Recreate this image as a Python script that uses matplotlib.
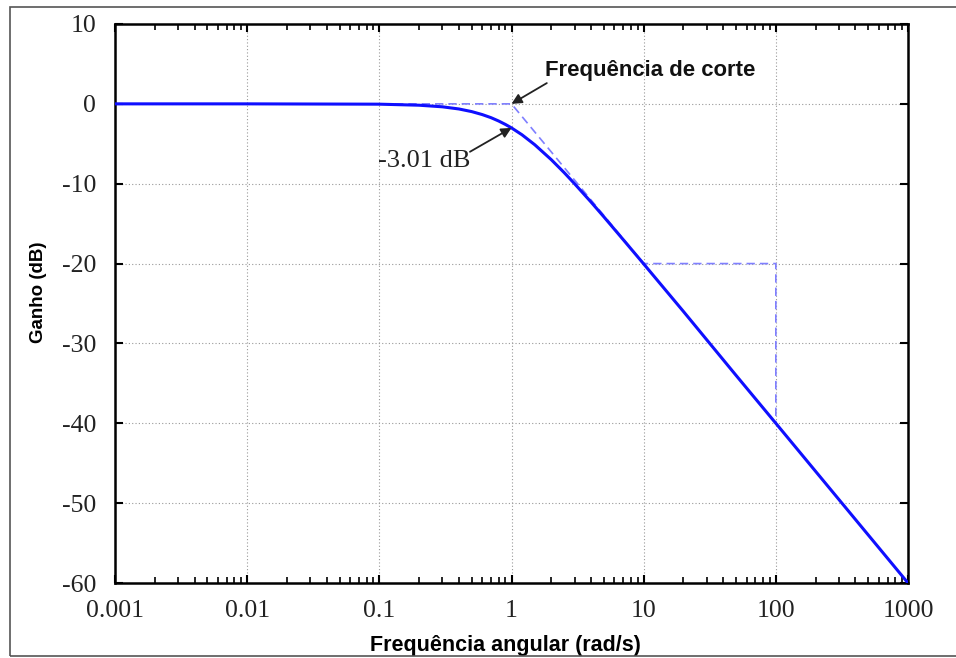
import matplotlib
matplotlib.use("Agg")
import matplotlib.pyplot as plt
from matplotlib.patches import Rectangle
from matplotlib.ticker import LogLocator, NullFormatter, FixedLocator

# gain curve (rad/s, dB)
freq = [0.001, 0.01, 0.1, 0.2, 0.3, 0.4, 0.5, 0.6, 0.7, 0.8, 0.9, 1.0,
        1.2, 1.5, 2.0, 2.5, 3.0, 4.0, 5.0, 7.0, 10.0, 20.0, 50.0, 100.0, 1000.0]
gain = [0.0, 0.0, -0.04, -0.17, -0.37, -0.64, -0.97, -1.34, -1.73, -2.15, -2.58, -3.01,
        -3.87, -5.12, -6.99, -8.60, -10.0, -12.3, -14.15, -17.0, -20.04, -26.0, -34.0, -40.0, -60.0]

# asymptote / slope guide (dashed)
guide_freq = [0.001, 1.0, 10.0, 100.0, 100.0]
guide_gain = [0.0, 0.0, -20.0, -20.0, -40.0]

x_ticks = [0.001, 0.01, 0.1, 1, 10, 100, 1000]
x_labels = ["0.001", "0.01", "0.1", "1", "10", "100", "1000"]
y_ticks = [-60, -50, -40, -30, -20, -10, 0, 10]

serif = ["Liberation Serif", "DejaVu Serif"]
sans = ["Liberation Sans", "DejaVu Sans"]
plt.rcParams["axes.unicode_minus"] = False

fig = plt.figure(figsize=(9.56, 6.58), dpi=100)
ax = fig.add_axes([115 / 956, 1 - 583 / 658, (908 - 115) / 956, (583 - 24) / 658])

# outer frame around the picture
fig.patches.append(Rectangle((10 / 956, 1 - 656 / 658), 1.2, (656 - 7) / 658,
                             transform=fig.transFigure, fill=False,
                             edgecolor="#555555", linewidth=1.2, zorder=10))

ax.plot(guide_freq, guide_gain, color="#7f7fff", linestyle=(0, (5, 3)), linewidth=1.2, zorder=2)
ax.plot(freq, gain, color="#0f0fff", linewidth=2.2, zorder=3)

ax.set_xscale("log")
ax.set_xlim(0.001, 1000)
ax.set_ylim(-60, 10)
ax.xaxis.set_major_locator(FixedLocator(x_ticks))
ax.set_xticklabels(x_labels)
ax.xaxis.set_minor_locator(LogLocator(base=10, subs=range(2, 10), numticks=20))
ax.xaxis.set_minor_formatter(NullFormatter())
ax.set_yticks(y_ticks)

ax.grid(True, which="major", color="#999999", linestyle=(0, (1, 2)), linewidth=0.8)
for s in ax.spines.values():
    s.set_linewidth(1.8)
ax.tick_params(which="both", direction="in", top=True, right=True)
ax.tick_params(which="major", length=6, width=1.5, labelsize=18.5)
ax.tick_params(axis="x", which="major", pad=12)
ax.tick_params(axis="y", which="major", pad=13.5)
ax.tick_params(which="minor", length=4, width=1.2)
for lab in ax.get_xticklabels() + ax.get_yticklabels():
    lab.set_family(serif)
    lab.set_color("#222222")

ax.set_xlabel("Frequência angular (rad/s)", family=sans, fontweight="bold", fontsize=15.5)
ax.xaxis.label.set_va("center")
ax.xaxis.set_label_coords((505 - 115) / 793, (583 - 646) / 559)
ax.set_ylabel("Ganho (dB)", family=sans, fontweight="bold", fontsize=13.5)
ax.yaxis.label.set_va("center")
ax.yaxis.set_label_coords((39 - 115) / 793, (583 - 292) / 559)

arrow = dict(arrowstyle="-|>", color="#222222", lw=1.3, mutation_scale=15, shrinkA=0, shrinkB=0)
ax.text(1.79, 4.2, "Frequência de corte", family=sans, fontweight="bold", fontsize=15.9,
        ha="left", va="center", color="#111111")
ax.annotate("", xy=(1.0, 0.0), xytext=(1.85, 2.6), arrowprops=arrow)
ax.text(0.0977, -7.2, "-3.01 dB", family=serif, fontsize=19, ha="left", va="center",
        color="#222222")
ax.annotate("", xy=(1.0, -3.01), xytext=(0.485, -6.0), arrowprops=arrow)

fig.savefig("out.png", dpi=100)
